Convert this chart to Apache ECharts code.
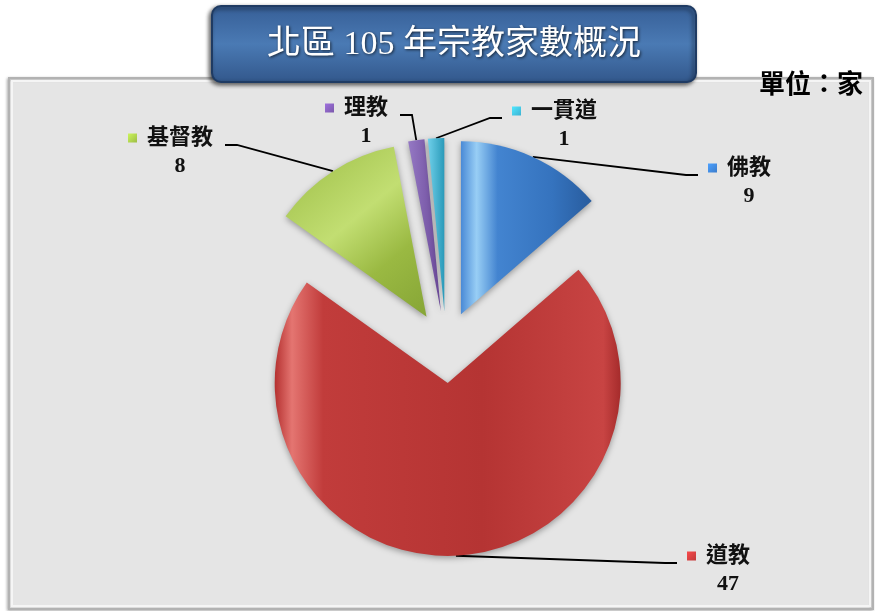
<!DOCTYPE html>
<html>
<head>
<meta charset="utf-8">
<script src="https://cdn.jsdelivr.net/npm/echarts@6/dist/echarts.min.js"></script>
<style>
  html, body { margin: 0; padding: 0; background: #fff; }
  #main { width: 875px; height: 611px; }
</style>
</head>
<body>
<div id="main"></div>
<script>
"use strict";
// 宗教類別與家數
var names  = ['佛教', '道教', '基督教', '理教', '一貫道'];
var values = [9, 47, 8, 1, 1];
var colors = ['#3b7ccb', '#c0393a', '#9dbd46', '#7b58ab', '#3db2d2'];

// 標籤位置 (左上角) 與引線方向
var labelPos = [
    { x: 708, y: 154, side: 'right' },
    { x: 687, y: 542, side: 'right' },
    { x: 128, y: 124, side: 'left' },
    { x: 325, y: 94,  side: 'left' },
    { x: 512, y: 97,  side: 'right' }
];

var FONT = '"Liberation Serif", "Noto Sans CJK TC", serif';
var CX = 446, CY = 347, R = 173, EXPLODE = 36;

// 立體感漸層
var fills = [
    new echarts.graphic.LinearGradient(0, 0, 1, 0, [
        { offset: 0, color: '#4a8ad6' }, { offset: 0.12, color: '#98cef5' },
        { offset: 0.28, color: '#4384d0' }, { offset: 0.7, color: '#3573be' }, { offset: 1, color: '#285c9e' }
    ]),
    new echarts.graphic.LinearGradient(0, 0, 1, 0, [
        { offset: 0, color: '#b53130' }, { offset: 0.05, color: '#e47571' },
        { offset: 0.14, color: '#c13c3b' }, { offset: 0.6, color: '#b53433' },
        { offset: 0.95, color: '#c84443' }, { offset: 1, color: '#a52b2b' }
    ]),
    new echarts.graphic.LinearGradient(0, 0, 1, 1, [
        { offset: 0, color: '#9bbc44' }, { offset: 0.45, color: '#c2de72' },
        { offset: 0.7, color: '#9ab942' }, { offset: 1, color: '#86a536' }
    ]),
    new echarts.graphic.LinearGradient(0, 0, 1, 0, [
        { offset: 0, color: '#9579c4' }, { offset: 1, color: '#6a4898' }
    ]),
    new echarts.graphic.LinearGradient(0, 0, 1, 0, [
        { offset: 0, color: '#6fd0ea' }, { offset: 1, color: '#2a9ab9' }
    ])
];

var rich = {
    n: { fontFamily: FONT, fontSize: 22, fontWeight: 'bold', color: '#111', padding: [0, 0, 0, 10], lineHeight: 28 }
};
names.forEach(function (nm, i) {
    rich['m' + i] = {
        width: 9, height: 9,
        backgroundColor: new echarts.graphic.LinearGradient(0, 0, 1, 1, [
            { offset: 0, color: echarts.color.lift(colors[i], -0.3) }, { offset: 1, color: colors[i] }
        ])
    };
    var pad = 19 + (nm.length * 22 - String(values[i]).length * 11) / 2;
    rich['v' + i] = { fontFamily: FONT, fontSize: 22, fontWeight: 'bold', color: '#111', padding: [0, 0, 0, pad], lineHeight: 28 };
});

var total = values.reduce(function (a, b) { return a + b; }, 0);

function labelLayout(p) {
    var pos = labelPos[p.dataIndex];
    var pts = p.labelLinePoints;
    var endY = pos.y + 21;
    var endX, bendX;
    if (pos.side === 'left') {
        endX = pos.x + p.labelRect.width + 12;
        bendX = endX + 12;
    } else {
        endX = pos.x - 10;
        bendX = endX - 12;
    }
    var out = { x: pos.x, y: pos.y, align: 'left', verticalAlign: 'top' };
    if (pts) {
        out.labelLinePoints = [pts[0], [bendX, endY], [endX, endY]];
    }
    return out;
}

// 每一塊扇形拉開：各自一個系列，圓心沿中線方向外移
var series = [];
var acc = 0;
names.forEach(function (nm, k) {
    var mid = (acc + values[k] / 2) / total * 2 * Math.PI;
    acc += values[k];
    var data = names.map(function (n2, i) {
        if (i === k) {
            return { name: n2, value: values[i], itemStyle: { color: fills[i] } };
        }
        return {
            name: n2, value: values[i],
            itemStyle: { color: 'rgba(0,0,0,0)', shadowBlur: 0, shadowColor: 'rgba(0,0,0,0)' },
            label: { show: false }, labelLine: { show: false }
        };
    });
    series.push({
        type: 'pie',
        center: [CX + EXPLODE * Math.sin(mid), CY - EXPLODE * Math.cos(mid)],
        radius: R,
        startAngle: 90,
        clockwise: true,
        avoidLabelOverlap: false,
        emphasis: { disabled: true },
        itemStyle: { shadowBlur: 6, shadowColor: 'rgba(0,0,0,0.35)', shadowOffsetY: 2 },
        label: {
            show: true,
            position: 'outside',
            formatter: function (p) {
                return '{m' + p.dataIndex + '|}{n|' + p.name + '}\n{v' + p.dataIndex + '|' + p.value + '}';
            },
            rich: rich
        },
        labelLine: { show: true, lineStyle: { color: '#000', width: 1.8 } },
        labelLayout: labelLayout,
        data: data
    });
});

var chart = echarts.init(document.getElementById('main'), null, { renderer: 'canvas' });

var option = {
    animation: false,
    backgroundColor: '#ffffff',
    graphic: [
        // 圖表區
        {
            type: 'rect', z: 0,
            shape: { x: 9, y: 78, width: 864, height: 531 },
            style: {
                fill: '#e5e5e5', stroke: '#b2b2b2', lineWidth: 2,
                shadowBlur: 3, shadowColor: 'rgba(0,0,0,0.25)', shadowOffsetX: -1, shadowOffsetY: 1
            }
        },
        {
            type: 'rect', z: 0,
            shape: { x: 12, y: 81, width: 858, height: 525 },
            style: { fill: 'none', stroke: '#f5f5f5', lineWidth: 2 }
        },
        // 標題框
        {
            type: 'rect', z: 10,
            shape: { x: 212, y: 6, width: 484, height: 76, r: 9 },
            style: {
                fill: new echarts.graphic.LinearGradient(0, 0, 0, 1, [
                    { offset: 0, color: '#365e96' }, { offset: 0.5, color: '#4a7ab4' }, { offset: 1, color: '#32578b' }
                ]),
                stroke: '#1f3b63', lineWidth: 2,
                shadowBlur: 4, shadowColor: 'rgba(0,0,0,0.6)', shadowOffsetX: -2, shadowOffsetY: 2
            }
        },
        {
            type: 'text', z: 11,
            x: 454, y: 45,
            style: {
                text: '北區 105 年宗教家數概況',
                fontFamily: FONT, fontSize: 34, fill: '#ffffff',
                align: 'center', verticalAlign: 'middle',
                textShadowColor: 'rgba(0,0,0,0.7)', textShadowBlur: 3, textShadowOffsetX: 1, textShadowOffsetY: 1
            }
        },
        {
            type: 'text', z: 11,
            x: 863, y: 86,
            style: {
                text: '單位：家',
                fontFamily: FONT, fontSize: 26, fontWeight: 'bold', fill: '#000',
                align: 'right', verticalAlign: 'middle'
            }
        }
    ],
    series: series
};

chart.setOption(option);
</script>
</body>
</html>
